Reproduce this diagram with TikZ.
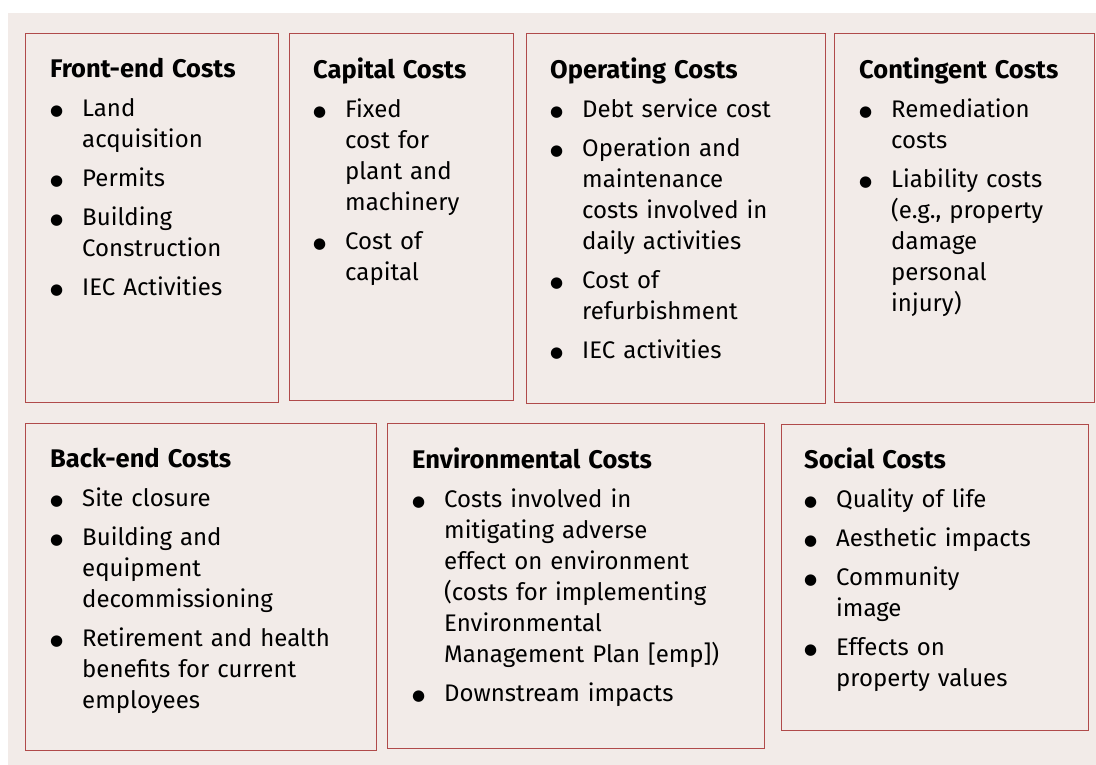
\documentclass[tikz,border=0pt]{standalone}
\usepackage{fontspec}
\setmainfont{Fira Sans}
\newfontfamily\dotfont{DejaVu Sans}
\usepackage{tikz}
\usetikzlibrary{positioning}

\definecolor{paper}{RGB}{242,235,232}
\definecolor{frame}{RGB}{176,74,74}
\newcommand{\itm}[1]{\par\hangindent=32pt\hangafter=1\noindent\makebox[32pt][l]{\raisebox{1.5pt}{\dotfont\fontsize{15}{15}\selectfont ●}}#1\par}
\newcommand{\head}[1]{\noindent{\fontsize{25.5}{31}\selectfont\bfseries #1}\par}

\begin{document}
\begin{tikzpicture}[x=1pt,y=-1pt,
    costbox/.style={draw=frame,line width=1.1pt,fill=paper,rectangle,anchor=north west,inner sep=0pt},
    txt/.style={anchor=north west,inner sep=0pt,text width=#1,align=left,
      font=\fontsize{24}{31}\selectfont,
      execute at begin node={\setlength{\parskip}{8pt}\setlength{\parindent}{0pt}}}]
      \useasboundingbox (0,0) rectangle (1096,765);
      \fill[paper] (8,13) rectangle (1096,765);

      % top row
      \node[costbox,minimum width=253pt,minimum height=369pt] (1) at (25,33) {};
      \node[costbox,minimum width=224pt,minimum height=367pt] (2) at (289,33) {};
      \node[costbox,minimum width=299pt,minimum height=370pt] (3) at (526,33) {};
      \node[costbox,minimum width=260pt,minimum height=369pt] (4) at (834,33) {};
      % bottom row
      \node[costbox,minimum width=351pt,minimum height=327pt] (5) at (25,423) {};
      \node[costbox,minimum width=377pt,minimum height=325pt] (6) at (387,423) {};
      \node[costbox,minimum width=307pt,minimum height=306pt] (7) at (781,424) {};

      \node[txt=225pt,below right=25pt and 25pt of 1.north west] (t1) {\head{Front-end Costs}
        \itm{Land\newline acquisition}
        \itm{Permits}
        \itm{Building\newline Construction}
        \itm{IEC Activities}};
      \node[txt=198pt,below right=25pt and 24pt of 2.north west] (t2) {\head{Capital Costs}
        \itm{Fixed\newline cost for\newline plant and\newline machinery}
        \itm{Cost of\newline capital}};
      \node[txt=272pt,below right=25pt and 24pt of 3.north west] (t3) {\head{Operating Costs}
        \itm{Debt service cost}
        \itm{Operation and\newline maintenance\newline costs involved in\newline daily activities}
        \itm{Cost of\newline refurbishment}
        \itm{IEC activities}};
      \node[txt=233pt,below right=25pt and 25pt of 4.north west] (t4) {\head{Contingent Costs}
        \itm{Remediation\newline costs}
        \itm{Liability costs\newline (e.g., property\newline damage\newline personal\newline injury)}};
      \node[txt=324pt,below right=25pt and 25pt of 5.north west] (t5) {\head{Back-end Costs}
        \itm{Site closure}
        \itm{Building and\newline equipment\newline decommissioning}
        \itm{Retirement and health\newline benefits for current\newline employees}};
      \node[txt=350pt,below right=25pt and 25pt of 6.north west] (t6) {\head{Environmental Costs}
        \itm{Costs involved in\newline mitigating adverse\newline effect on environment\newline (costs for implementing\newline Environmental\newline Management Plan [emp])}
        \itm{Downstream impacts}};
      \node[txt=282pt,below right=24pt and 23pt of 7.north west] (t7) {\head{Social Costs}
        \itm{Quality of life}
        \itm{Aesthetic impacts}
        \itm{Community\newline image}
        \itm{Effects on\newline property values}};
    \end{tikzpicture}
\end{document}
